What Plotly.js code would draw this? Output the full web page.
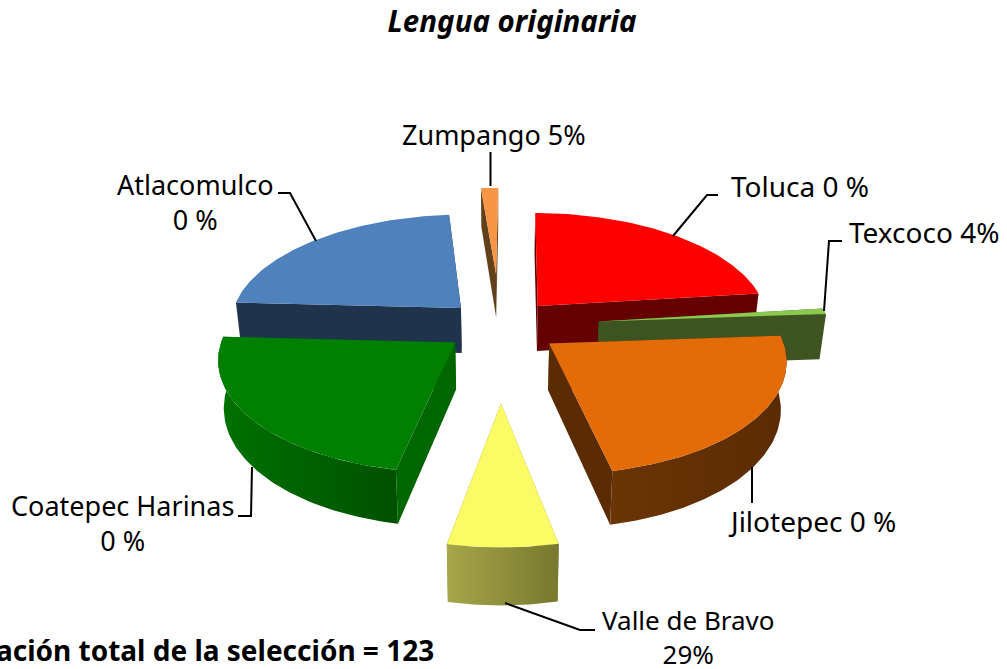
<!DOCTYPE html>
<html>
<head>
<meta charset="utf-8">
<script src="https://cdn.plot.ly/plotly-3.0.1.min.js"></script>
<style>html,body{margin:0;padding:0;background:#fff;overflow:hidden}#chart{width:1007px;height:669px}</style>
</head>
<body>
<div id="chart"></div>
<script>
// Data (wedge sweeps in degrees, printed labels as in the chart)
var categories = ['Toluca','Texcoco','Jilotepec','Valle de Bravo','Coatepec Harinas','Atlacomulco','Zumpango'];
var printedPct = ['0 %','4%','0 %','29%','0 %','0 %','5%'];
var sweeps     = [82.5, 3, 82, 23.3, 81.7, 82.4, 5.1];
var explode    = [0.25, 0.43, 0.26, 0.645, 0.24, 0.24, 0.50];
var radii      = [1, 1, 0.99, 0.95, 0.99, 1, 1];

// Styles
var topColors  = ['#FF0000','#8CC94F','#E36C09','#FBFB66','#007F00','#4F81BD','#F79646'];
var wallColors = ['#650000','#3E5420','#5B2C03','#8E8E3E','#006600','#1F334D','#63401C'];
var arcLeft    = ['#650000','#3E5420','#6B3505','#A6A64A','#007200','#1F334D','#63401C'];
var arcRight   = ['#650000','#3E5420','#5A2B03','#78782F','#005000','#1F334D','#63401C'];
var drawOrder  = [6,0,5,1,2,4,3];

// Oblique-perspective camera for the 3D pie
var CX=500, CY=326, SX=232, SY=110, P=0.13, H=46, SHRINK=0.02, START=0.5;
var rad=Math.PI/180;
function project(X,Y,z){
  var w=1+P*Y, k=1-SHRINK*z;
  return [CX+(SX*X/w)*k, CY-SY*Y/w+H*z/w];
}
function poly(pts,color,grad){
  var t={type:'scatter',mode:'lines',x:pts.map(function(p){return p[0];}),y:pts.map(function(p){return p[1];}),
    fill:'toself',line:{width:0},hoverinfo:'skip',showlegend:false,fillcolor:color};
  if(grad){t.fillgradient={type:'horizontal',colorscale:[[0,grad[0]],[1,grad[1]]]};}
  return t;
}
var starts=[], acc=START;
sweeps.forEach(function(s){starts.push(acc);acc+=s;});

var traces=[];
drawOrder.forEach(function(i){
  var a0=starts[i], a1=a0+sweeps[i], mid=(a0+a1)/2, R=radii[i];
  var X0=explode[i]*Math.sin(mid*rad), Y0=explode[i]*Math.cos(mid*rad);
  function rim(a,z){return project(X0+R*Math.sin(a*rad),Y0+R*Math.cos(a*rad),z);}
  function apex(z){return project(X0,Y0,z);}
  // sample angles along the arc, always ending exactly at the slice edge
  var angles=[],a;
  for(a=a0;a<a1;a+=1){angles.push(a);}
  angles.push(a1);
  // radial walls
  [a1,a0].forEach(function(e){
    traces.push(poly([apex(0),rim(e,0),rim(e,1),apex(1),apex(0)],wallColors[i]));
  });
  // rim wall: only the part that faces the viewer
  var top=[],bot=[];
  angles.forEach(function(e){
    if(Math.cos(e*rad)<0.05){top.push(rim(e,0));bot.unshift(rim(e,1));}
  });
  if(top.length>1){traces.push(poly(top.concat(bot).concat([top[0]]),wallColors[i],[arcLeft[i],arcRight[i]]));}
  // top face
  var face=[apex(0)];
  angles.forEach(function(e){face.push(rim(e,0));});
  face.push(apex(0));
  traces.push(poly(face,topColors[i]));
});

// Leader lines (page layout, pixels)
var leaders=[
  [[490.5,186],[490.5,152]],
  [[673,236],[707,195],[718,195]],
  [[824,311],[829,241],[842,241]],
  [[316,241],[290,193],[278,193]],
  [[252,467],[251,516],[238,516]],
  [[752,467],[752,503]],
  [[505,603],[580,630],[595,630]]
];
leaders.forEach(function(l){
  traces.push({type:'scatter',mode:'lines',x:l.map(function(p){return p[0];}),y:l.map(function(p){return p[1];}),
    line:{color:'#000',width:2},hoverinfo:'skip',showlegend:false});
});

var FONT='Noto Sans', LS=27;
function label(x,y,text,size){
  return {x:x,y:y,xref:'x',yref:'y',text:text,showarrow:false,xanchor:'center',yanchor:'middle',align:'center',
    font:{family:FONT,size:size||LS,color:'#000'}};
}
var annotations=[
  label(493.5,134.5,categories[6]+' '+printedPct[6]),
  label(799.5,185.5,categories[0]+' '+printedPct[0],28),
  label(924,231.5,categories[1]+' '+printedPct[1],28),
  label(811.5,521,categories[2]+' '+printedPct[2],28),
  label(688,636.5,categories[3]+'<br>'+printedPct[3],26),
  label(122,522.5,categories[4]+'<br>'+printedPct[4]),
  label(195,201.5,categories[5]+'<br>'+printedPct[5]),
  {x:436,y:650,xref:'x',yref:'y',text:'<b>Población total de la selección = 123</b>',showarrow:false,xanchor:'right',yanchor:'middle',
    font:{family:FONT,size:28,color:'#000'}}
];

var layout={
  width:1007,height:669,margin:{l:0,r:0,t:0,b:0},paper_bgcolor:'#fff',plot_bgcolor:'#fff',showlegend:false,
  title:{text:'<b><i>Lengua originaria</i></b>',x:0.5085,xanchor:'center',y:0.967,yanchor:'middle',yref:'container',
    font:{family:FONT,size:29.5,color:'#000'}},
  xaxis:{range:[0,1007],visible:false,fixedrange:true},
  yaxis:{range:[669,0],visible:false,fixedrange:true},
  annotations:annotations
};
Plotly.newPlot('chart',traces,layout,{displayModeBar:false,staticPlot:true});
</script>
</body>
</html>
